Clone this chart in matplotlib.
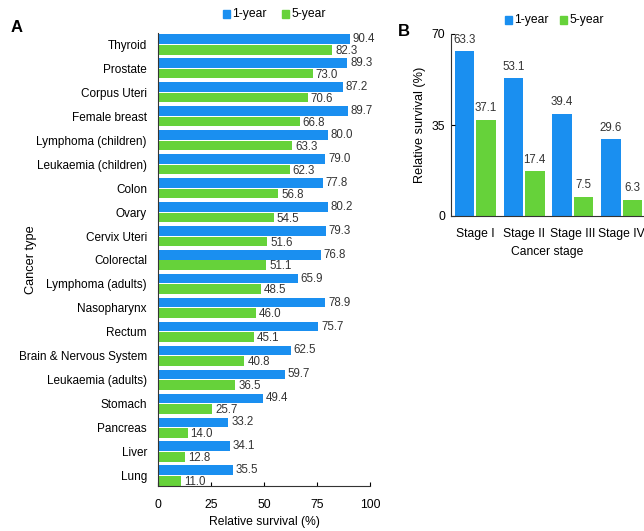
import matplotlib
matplotlib.use("Agg")
import matplotlib.pyplot as plt
import numpy as np
from matplotlib.patches import Rectangle

plt.rcParams['font.family'] = ['Liberation Sans Narrow', 'Liberation Sans', 'DejaVu Sans']

cancer_types = ["Thyroid", "Prostate", "Corpus Uteri", "Female breast", "Lymphoma (children)",
                "Leukaemia (children)", "Colon", "Ovary", "Cervix Uteri", "Colorectal",
                "Lymphoma (adults)", "Nasopharynx", "Rectum", "Brain & Nervous System",
                "Leukaemia (adults)", "Stomach", "Pancreas", "Liver", "Lung"]
one_year = [90.4, 89.3, 87.2, 89.7, 80.0, 79.0, 77.8, 80.2, 79.3, 76.8,
            65.9, 78.9, 75.7, 62.5, 59.7, 49.4, 33.2, 34.1, 35.5]
five_year = [82.3, 73.0, 70.6, 66.8, 63.3, 62.3, 56.8, 54.5, 51.6, 51.1,
             48.5, 46.0, 45.1, 40.8, 36.5, 25.7, 14.0, 12.8, 11.0]

stages = ["Stage I", "Stage II", "Stage III", "Stage IV"]
stage_one_year = [63.3, 53.1, 39.4, 29.6]
stage_five_year = [37.1, 17.4, 7.5, 6.3]

BLUE = "#1a8ff0"
GREEN = "#66d23a"
VAL_FS = 8.3

fig = plt.figure(figsize=(6.44, 5.31), dpi=100)

# Panel A
axA = fig.add_axes([158/644, 1-486/531, 212/644, 453/531])
y = np.arange(len(cancer_types))
h = 0.4
off = 0.22
axA.barh(y - off, one_year, height=h, color=BLUE)
axA.barh(y + off, five_year, height=h, color=GREEN)
for yi, v in zip(y, one_year):
    axA.text(v + 1.3, yi - off, f"{v:.1f}", va="center", ha="left", fontsize=VAL_FS, color="#333333")
for yi, v in zip(y, five_year):
    axA.text(v + 1.3, yi + off + 0.05, f"{v:.1f}", va="center", ha="left", fontsize=VAL_FS, color="#333333")
axA.set_xlim(0, 100)
axA.set_ylim(18.44, -0.48)
axA.set_yticks(y)
axA.set_yticklabels(cancer_types, fontsize=8.5)
axA.tick_params(axis="y", length=0, pad=8)
axA.set_xticks([0, 25, 50, 75, 100])
axA.tick_params(axis="x", direction="in", length=3, labelsize=8.7, pad=9)
for s in ["top", "right"]:
    axA.spines[s].set_visible(False)
axA.spines["left"].set_color("#333333")
axA.spines["bottom"].set_color("#333333")
axA.set_xlabel("Relative survival (%)", fontsize=8.7, labelpad=4)
axA.set_ylabel("Cancer type", fontsize=9.2)
axA.yaxis.set_label_coords(-0.57, 0.5)

fig.text(17/644, 1-28/531, "A", fontsize=12, fontweight="bold", ha="center", va="center",
         family=['Liberation Sans', 'DejaVu Sans'])

# legend A
def legend(xb, xg, yc):
    for x0, c, lab in [(xb, BLUE, "1-year"), (xg, GREEN, "5-year")]:
        fig.patches.append(Rectangle((x0/644, 1-(yc+4)/531), 7/644, 8/531, color=c,
                                     transform=fig.transFigure, figure=fig))
        fig.text((x0+9)/644, 1-yc/531, lab, fontsize=8.7, va="center", ha="left")

legend(223, 282, 14)

# Panel B
axB = fig.add_axes([451/644, 1-216/531, 193/644, 182/531])
x = np.arange(len(stages))
w = 0.4
offb = 0.22
axB.bar(x - offb, stage_one_year, width=w, color=BLUE)
axB.bar(x + offb, stage_five_year, width=w, color=GREEN)
for xi, v in zip(x, stage_one_year):
    axB.text(xi - offb, v + 2.0, f"{v:.1f}", ha="center", va="bottom", fontsize=VAL_FS, color="#333333")
for xi, v in zip(x, stage_five_year):
    axB.text(xi + offb, v + 2.0, f"{v:.1f}", ha="center", va="bottom", fontsize=VAL_FS, color="#333333")
axB.set_xlim(-0.5, 3.46)
axB.set_ylim(0, 70)
axB.set_yticks([0, 35, 70])
axB.tick_params(axis="y", direction="in", length=3, labelsize=8.7, pad=4)
axB.set_xticks(x)
axB.set_xticklabels(stages, fontsize=8.7)
axB.tick_params(axis="x", length=0, pad=9)
for s in ["top", "right"]:
    axB.spines[s].set_visible(False)
axB.spines["left"].set_color("#333333")
axB.spines["bottom"].set_color("#333333")
axB.set_xlabel("Cancer stage", fontsize=8.7, labelpad=4)
axB.set_ylabel("Relative survival (%)", fontsize=9.2)
axB.yaxis.set_label_coords(-0.13, 0.5)

fig.text(404/644, 1-32/531, "B", fontsize=12, fontweight="bold", ha="center", va="center",
         family=['Liberation Sans', 'DejaVu Sans'])
legend(505, 560, 20)

fig.savefig("out.png", dpi=100)
